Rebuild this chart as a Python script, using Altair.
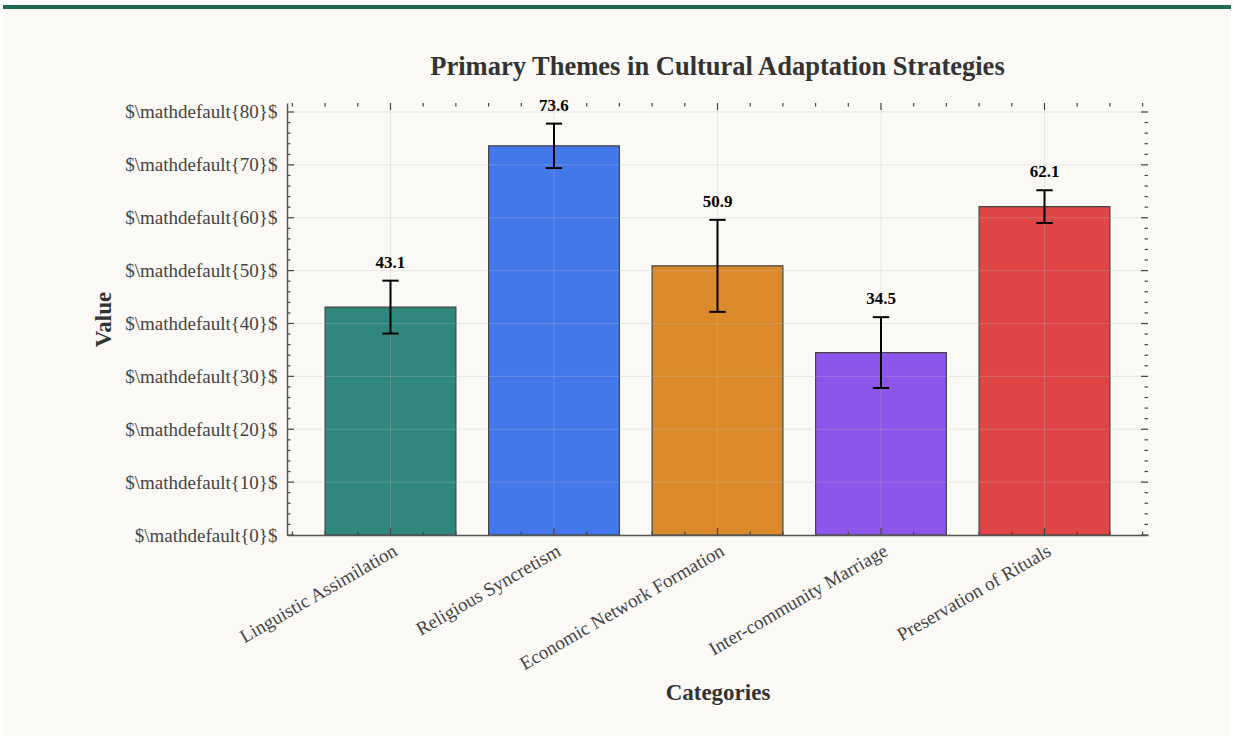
import altair as alt
import pandas as pd

categories = ["Linguistic Assimilation", "Religious Syncretism", "Economic Network Formation",
              "Inter-community Marriage", "Preservation of Rituals"]
values = [43.1, 73.6, 50.9, 34.5, 62.1]
errors = [5.0, 4.2, 8.7, 6.7, 3.1]
colors = ["#2f877d", "#4378eb", "#db8a2b", "#8d56ea", "#df4545"]
title_text = "Primary Themes in Cultural Adaptation Strategies"

y_major = [0, 10, 20, 30, 40, 50, 60, 70, 80]
y_minor = [v for v in range(2, 80, 2) if v % 10 != 0]
x_major = [0, 1, 2, 3, 4]
x_minor = [round(-0.6 + 0.2 * k, 1) for k in range(27)]
x_minor = [v for v in x_minor if abs(v - round(v)) > 1e-6]

W, H = 861, 432
FONT = "Liberation Serif"

df = pd.DataFrame({
    "idx": list(range(len(categories))),
    "cat": categories,
    "value": values,
    "err": errors,
    "color": colors,
})
df["lo"] = df["value"] - df["err"]
df["hi"] = df["value"] + df["err"]
df["x0"] = df["idx"] - 0.4
df["x1"] = df["idx"] + 0.4
df["c0"] = df["idx"] - 0.05
df["c1"] = df["idx"] + 0.05
df["label"] = df["value"].map(lambda v: f"{v:.1f}")

xs = alt.Scale(domain=[-0.633, 4.633], nice=False, zero=False)
ys = alt.Scale(domain=[0, 81.7], nice=False, zero=True)

label_arr = "[" + ",".join("'" + c + "'" for c in categories) + "]"

base = alt.Chart(df)

one = pd.DataFrame({"t": [title_text]})
card = alt.Chart(one).mark_rect(color="#faf9f6", clip=False).encode(
    x=alt.value(-284), x2=alt.value(944), y=alt.value(-94), y2=alt.value(633))
topbar = alt.Chart(one).mark_rect(color="#1e6a52", clip=False).encode(
    x=alt.value(-284), x2=alt.value(944), y=alt.value(-98), y2=alt.value(-94))
title = alt.Chart(one).mark_text(font=FONT, fontSize=26.5, fontWeight="bold", color="#333333",
                                 baseline="middle", align="center", clip=False).encode(
    x=alt.value(W / 2), y=alt.value(-36), text="t:N")

bars = base.mark_rect(stroke="#444444", strokeWidth=1.2).encode(
    x=alt.X("x0:Q", scale=xs, axis=alt.Axis(
        values=x_major, title="Categories", grid=False, ticks=False, zindex=1,
        labelExpr=label_arr + "[datum.value]", labelAngle=330, labelAlign="right",
        labelBaseline="top", labelPadding=6, labelFont=FONT, labelFontSize=19, labelLimit=0,
        labelOverlap=False, labelFlush=False,
        labelColor="#444444", domainColor="#555555", domainWidth=1.5,
        titleFont=FONT, titleFontSize=23, titleFontWeight="bold", titleColor="#333333",
        titleY=157, titleBaseline="middle", titleX=W / 2)),
    x2="x1:Q",
    y=alt.Y("value:Q", scale=ys, axis=alt.Axis(
        values=y_major, title="Value", grid=False, ticks=False, zindex=1,
        labelExpr="'$\\\\mathdefault{' + datum.value + '}$'",
        labelPadding=10, labelFont=FONT, labelFontSize=19, labelColor="#444444", labelLimit=0,
        labelOverlap=False,
        domainColor="#555555", domainWidth=1.5,
        titleFont=FONT, titleFontSize=23, titleFontWeight="bold", titleColor="#333333",
        titleX=-184, titleY=H / 2, titleBaseline="middle", titleAngle=270)),
    y2=alt.datum(0),
    color=alt.Color("color:N", scale=None),
)

gy = alt.Chart(pd.DataFrame({"v": y_major[1:]})).mark_rule(color="#bbbbbb", opacity=0.3, strokeWidth=1).encode(
    y=alt.Y("v:Q", scale=ys), x=alt.value(0), x2=alt.value(W))
gx = alt.Chart(pd.DataFrame({"v": x_major})).mark_rule(color="#bbbbbb", opacity=0.3, strokeWidth=1).encode(
    x=alt.X("v:Q", scale=xs), y=alt.value(0), y2=alt.value(H))

err = base.mark_rule(color="black", strokeWidth=2).encode(
    x=alt.X("idx:Q", scale=xs), y=alt.Y("lo:Q", scale=ys), y2="hi:Q")
cap_hi = base.mark_rule(color="black", strokeWidth=2).encode(
    x=alt.X("c0:Q", scale=xs), x2="c1:Q", y=alt.Y("hi:Q", scale=ys))
cap_lo = base.mark_rule(color="black", strokeWidth=2).encode(
    x=alt.X("c0:Q", scale=xs), x2="c1:Q", y=alt.Y("lo:Q", scale=ys))
labels = base.mark_text(font=FONT, fontSize=17, fontWeight="bold", color="black",
                        baseline="bottom", dy=-9).encode(
    x=alt.X("idx:Q", scale=xs), y=alt.Y("hi:Q", scale=ys), text="label:N")

tick_col = "#444444"
ymaj = pd.DataFrame({"v": y_major})
ymin = pd.DataFrame({"v": y_minor})
xmaj = pd.DataFrame({"v": x_major})
xmin = pd.DataFrame({"v": x_minor})

def yticks(d, L):
    l = alt.Chart(d).mark_rule(color=tick_col, strokeWidth=1.2).encode(
        y=alt.Y("v:Q", scale=ys), x=alt.value(0), x2=alt.value(L))
    r = alt.Chart(d).mark_rule(color=tick_col, strokeWidth=1.2).encode(
        y=alt.Y("v:Q", scale=ys), x=alt.value(W - L), x2=alt.value(W))
    return [l, r]

def xticks(d, L):
    b = alt.Chart(d).mark_rule(color=tick_col, strokeWidth=1.2).encode(
        x=alt.X("v:Q", scale=xs), y=alt.value(H), y2=alt.value(H - L))
    t = alt.Chart(d).mark_rule(color=tick_col, strokeWidth=1.2).encode(
        x=alt.X("v:Q", scale=xs), y=alt.value(0), y2=alt.value(L))
    return [b, t]

layers = [card, topbar, title, bars, gy, gx, err, cap_hi, cap_lo, labels]
layers += yticks(ymaj, 7) + yticks(ymin, 3.5) + xticks(xmaj, 7) + xticks(xmin, 3.5)

chart = alt.layer(*layers).properties(
    width=W, height=H,
    autosize=alt.AutoSizeParams(type="none"),
    padding={"left": 287, "top": 103, "right": 86, "bottom": 203},
    background="white",
).configure_view(stroke=None)

chart.save("out.html", embed_options={"renderer": "svg", "actions": False})
